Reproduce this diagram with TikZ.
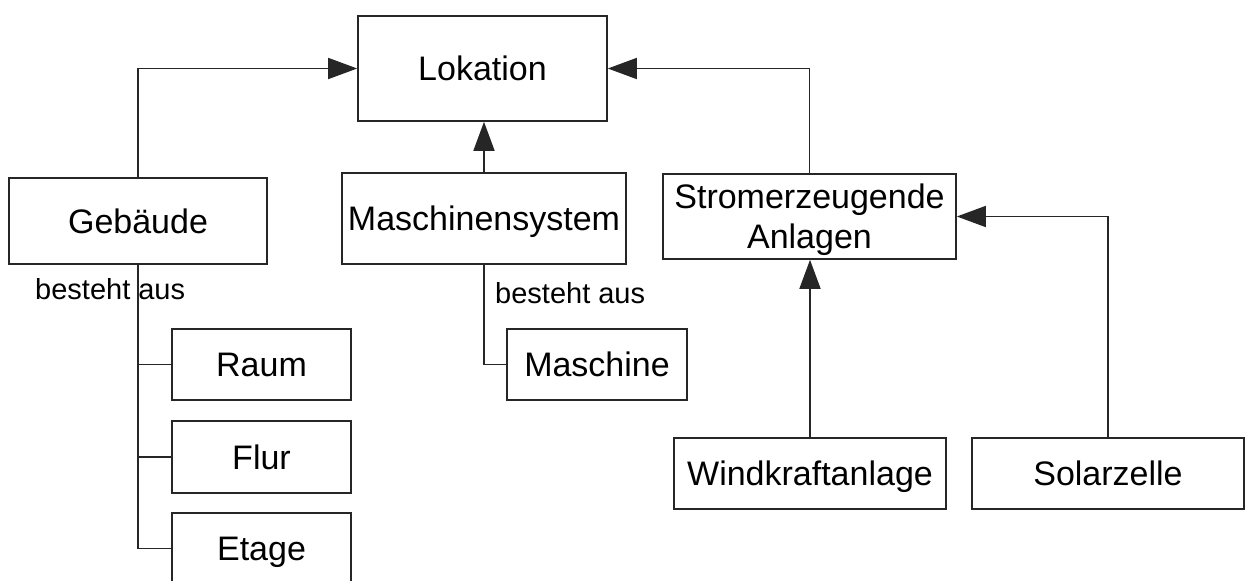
\documentclass[tikz,border=0pt]{standalone}
\usepackage{fontspec}
\setmainfont{Liberation Sans}
\usetikzlibrary{arrows.meta}
\begin{document}
\begin{tikzpicture}[x=1pt,y=-1pt,
  box/.style={draw=black!85, line width=1.6pt, fill=white, inner sep=0pt,
    font=\fontsize{34}{40}\selectfont, align=center, text height=24.5pt, text depth=0pt},
  conn/.style={draw=black!85, line width=1.6pt},
  arr/.style={conn, -{Triangle[length=29pt,width=21pt]}},
  lbl/.style={font=\fontsize{29}{34}\selectfont, inner sep=0pt, anchor=base west}
]
\useasboundingbox (0,0) rectangle (1245,581);
\node[box, minimum width=249pt, minimum height=105pt] (lok) at (482.5,68.5) {Lokation};
\node[box, minimum width=258pt, minimum height=86pt] (geb) at (138,221) {Gebäude};
\node[box, minimum width=284pt, minimum height=91pt] (msys) at (484,218.5) {Maschinensystem};
\node[box, minimum width=293pt, minimum height=85pt, text height=64.5pt] (strom) at (809.5,216.5) {Stromerzeugende\\Anlagen};
\node[box, minimum width=179pt, minimum height=71pt] (raum) at (261.5,364.5) {Raum};
\node[box, minimum width=179pt, minimum height=72pt] (flur) at (261.5,457) {Flur};
\node[box, minimum width=179pt, minimum height=71pt] (etage) at (261.5,548.5) {Etage};
\node[box, minimum width=180pt, minimum height=71pt] (masch) at (597,364.5) {Maschine};
\node[box, minimum width=272pt, minimum height=71pt] (wind) at (810,473.5) {Windkraftanlage};
\node[box, minimum width=272pt, minimum height=71pt] (solar) at (1108,473.5) {Solarzelle};

\node[lbl] (l1) at (35,299) {besteht aus};
\node[lbl] (l2) at (495,303) {besteht aus};

\draw[arr] (geb.north) |- (lok.west);
\draw[arr] (msys.north) -- (msys.north |- lok.south);
\draw[arr] (strom.north) |- (lok.east);
\draw[arr] (solar.north) |- (strom.east);
\draw[arr] (wind.north) -- (wind.north |- strom.south);

\draw[conn] (geb.south) |- (etage.west);
\draw[conn] (geb.south |- raum.west) -- (raum.west);
\draw[conn] (geb.south |- flur.west) -- (flur.west);
\draw[conn] (msys.south) |- (masch.west);
\end{tikzpicture}
\end{document}
